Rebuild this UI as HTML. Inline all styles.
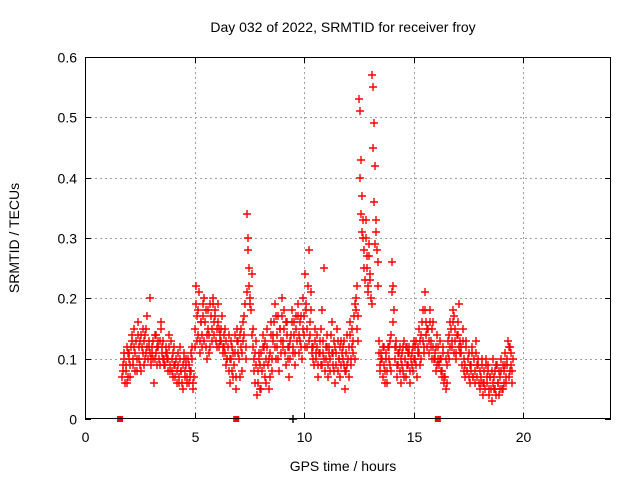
<!DOCTYPE html>
<html><head><meta charset="utf-8"><style>
body{margin:0;background:#fff;}
svg{display:block;font-family:"Liberation Sans",sans-serif;}
</style></head><body>
<svg id="chart" width="640" height="480">
<rect width="640" height="480" fill="#fff"/>
<g id="grid"></g>
<g id="pts"></g>
<rect x="85.5" y="57.5" width="525" height="361" fill="none" stroke="#000" stroke-width="1"/>
<g id="ticks"></g>
<text x="343" y="32" font-size="14" text-anchor="middle">Day 032 of 2022, SRMTID for receiver froy</text>
<text x="343" y="471" font-size="14" text-anchor="middle">GPS time / hours</text>
<text transform="translate(19,238) rotate(-90)" font-size="14" text-anchor="middle">SRMTID / TECUs</text>
</svg>
<script>
const xTicks=[0,5,10,15,20];
const yTicks=[0,0.1,0.2,0.3,0.4,0.5,0.6];
const yTickLabels=["0","0.1","0.2","0.3","0.4","0.5","0.6"];
const times=[1.70,1.85,2.00,2.15,2.30,2.45,2.60,2.75,2.90,3.05,3.20,3.35,3.50,3.65,3.80,3.95,4.10,4.25,4.40,4.55,4.70,4.85,5.00,5.15,5.30,5.45,5.60,5.75,5.90,6.05,6.20,6.35,6.50,6.65,6.80,6.95,7.10,7.25,7.40,7.55,7.70,7.85,8.00,8.15,8.30,8.45,8.60,8.75,8.90,9.05,9.20,9.35,9.50,9.65,9.80,9.95,10.10,10.25,10.40,10.55,10.70,10.85,11.00,11.15,11.30,11.45,11.60,11.75,11.90,12.05,12.20,12.35,12.50,12.65,12.80,12.95,13.10,13.25,13.40,13.55,13.70,13.85,14.00,14.15,14.30,14.45,14.60,14.75,14.90,15.05,15.20,15.35,15.50,15.65,15.80,15.95,16.10,16.25,16.40,16.55,16.70,16.85,17.00,17.15,17.30,17.45,17.60,17.75,17.90,18.05,18.20,18.35,18.50,18.65,18.80,18.95,19.10,19.25,19.40];
const values=[.07,.09,.10, .08,.06,.11, .10,.07,.12, .13,.09,.15, .11,.08,.14, .10,.13,.08, .12,.15,.09, .14,.11,.17, .12,.20,.10, .11,.13,.06,
.10,.14,.12, .12,.09,.16, .11,.13,.10, .09,.12,.11, .10,.14,.08, .08,.11,.09, .07,.10,.06, .09,.06,.12, .08,.05,.10, .07,.09,.06,
.10,.06,.08, .08,.12,.05, .12,.22,.17, .14,.21,.11, .16,.12,.19, .13,.18,.10, .15,.11,.19, .17,.13,.20, .14,.18,.12, .19,.15,.13,
.13,.17,.11, .12,.15,.09, .10,.14,.06, .13,.08,.11, .09,.14,.05, .15,.11,.07, .12,.08,.16, .14,.19,.10, .34,.30,.25, .20,.24,.15,
.10,.06,.13, .04,.08,.11, .09,.05,.14, .12,.07,.10, .15,.09,.05, .11,.16,.08, .14,.19,.10, .12,.17,.08, .15,.11,.20, .13,.18,.09,
.16,.12,.07, .10,.14,.18, .12,.16,.09, .15,.19,.11, .13,.17,.10, .20,.14,.24, .18,.12,.28, .16,.21,.11, .12,.09,.15, .10,.14,.07,
.13,.09,.18, .11,.25,.08, .10,.14,.07, .12,.08,.16, .09,.13,.06, .11,.15,.08, .10,.07,.13, .12,.09,.05, .08,.14,.10, .12,.16,.09,
.15,.11,.19, .18,.22,.13, .53,.51,.43, .37,.30,.25, .33,.27,.22, .29,.24,.20, .57,.55,.49, .42,.31,.26, .13,.09,.11, .10,.07,.12,
.08,.11,.06, .12,.09,.14, .26,.22,.18, .10,.13,.07, .09,.12,.06, .11,.08,.13, .10,.07,.12, .09,.12,.06, .11,.08,.13, .10,.13,.07,
.12,.15,.09, .14,.18,.11, .21,.16,.12, .15,.11,.18, .13,.10,.16, .11,.08,.14, .12,.09,.10, .10,.07,.12, .06,.05,.09, .13,.10,.16,
.15,.12,.18, .17,.13,.10, .14,.19,.11, .12,.09,.15, .10,.07,.13, .08,.11,.06, .09,.12,.07, .10,.06,.13, .07,.10,.05, .06,.09,.04,
.08,.05,.10, .06,.09,.04, .07,.03,.10, .05,.08,.04, .09,.06,.04, .07,.10,.05, .08,.11,.06, .10,.13,.07, .12,.09,.06];
const values2=[.08,.11,.06, .09,.12,.07, .11,.09,.14, .10,.12,.08, .13,.10,.16, .12,.09,.14, .11,.13,.10, .15,.12,.10, .13,.11,.09, .12,.10,.14,
.11,.09,.13, .10,.13,.15, .12,.10,.09, .11,.10,.08, .12,.09,.13, .10,.07,.12, .09,.08,.11, .07,.10,.08, .06,.09,.11, .08,.10,.07,
.09,.07,.11, .10,.06,.07, .15,.19,.13, .18,.13,.16, .14,.17,.20, .16,.12,.14, .18,.14,.12, .15,.19,.16, .17,.13,.15, .16,.12,.14,
.15,.12,.14, .11,.13,.10, .12,.08,.10, .10,.12,.07, .11,.07,.13, .13,.10,.14, .15,.11,.13, .17,.12,.21, .28,.22,.19, .18,.14,.12,
.08,.11,.09, .06,.10,.05, .11,.08,.12, .09,.13,.06, .12,.10,.07, .14,.10,.13, .16,.12,.17, .14,.10,.15, .13,.17,.12, .15,.11,.16,
.14,.10,.12, .13,.16,.11, .14,.11,.17, .13,.17,.14, .16,.12,.15, .17,.12,.19, .15,.22,.13, .14,.18,.12, .10,.13,.11, .12,.09,.11,
.11,.15,.09, .13,.10,.12, .12,.09,.11, .10,.14,.11, .11,.08,.12, .09,.13,.10, .12,.09,.11, .10,.13,.08, .11,.09,.07, .14,.10,.12,
.13,.17,.10, .20,.15,.17, .40,.34,.31, .33,.28,.23, .30,.25,.21, .27,.23,.19, .45,.36,.29, .33,.28,.22, .11,.08,.10, .12,.09,.06,
.10,.08,.12, .10,.13,.08, .21,.16,.12, .12,.09,.11, .11,.08,.10, .09,.12,.07, .12,.09,.11, .11,.08,.10, .09,.12,.10, .12,.09,.11,
.11,.13,.10, .16,.13,.12, .18,.14,.15, .13,.16,.12, .15,.12,.10, .10,.12,.09, .10,.13,.08, .08,.11,.07, .07,.10,.06, .11,.14,.12,
.13,.16,.11, .15,.11,.14, .16,.12,.13, .11,.13,.08, .09,.12,.08, .10,.07,.09, .08,.11,.07, .08,.11,.09, .09,.06,.08, .07,.10,.06,
.06,.09,.07, .08,.05,.07, .05,.08,.06, .07,.05,.09, .06,.08,.05, .08,.05,.09, .06,.09,.07, .09,.12,.08, .11,.08,.10];
const zeroTimes=[1.6,6.9,16.1];
const blackTimes=[9.5];
const blackValues=[0];
const NS="http://www.w3.org/2000/svg";
const X0=85,X1=611,Y0=419,Y1=57;
function xs(t){return X0+t/24*(X1-X0);}
function ys(v){return Y0-v/0.6*(Y0-Y1);}
const grid=document.getElementById('grid'),ticks=document.getElementById('ticks'),pts=document.getElementById('pts');
function mk(tag,attrs,parent){const e=document.createElementNS(NS,tag);for(const k in attrs)e.setAttribute(k,attrs[k]);parent.appendChild(e);return e;}
yTicks.forEach((v,i)=>{
  const y=Math.round(ys(v))+0.5;
  if(i>0&&i<yTicks.length-1){const g=mk('line',{x1:X0,x2:X1,y1:y,y2:y,stroke:'#a0a0a0','stroke-dasharray':'2,3'},grid);
  
  }
  mk('line',{x1:X0,x2:X0+6,y1:y,y2:y,stroke:'#000'},ticks);
  mk('line',{x1:X1,x2:X1-6,y1:y,y2:y,stroke:'#000'},ticks);
  const t=mk('text',{x:X0-8,y:y+5,'font-size':14,'text-anchor':'end'},ticks);t.textContent=yTickLabels[i];
  
  
});
xTicks.forEach(v=>{
  const x=Math.round(xs(v))+0.5;
  if(v>0){const g=mk('line',{x1:x,x2:x,y1:Y0,y2:Y1,stroke:'#a0a0a0','stroke-dasharray':'2,3'},grid);
  
  }
  mk('line',{x1:x,x2:x,y1:Y0,y2:Y0-6,stroke:'#000'},ticks);
  mk('line',{x1:x,x2:x,y1:Y1,y2:Y1+6,stroke:'#000'},ticks);
  const t=mk('text',{x:x,y:Y0+23,'font-size':14,'text-anchor':'middle'},ticks);t.textContent=String(v);
  
  
});
function plus(t,v,col){
  const x=Math.round(xs(t)),y=Math.round(ys(v));
  const p=mk('path',{d:`M${x-4},${y}H${x+4}M${x},${y-4}V${y+4}`,stroke:col,'stroke-width':1.4,fill:'none'},pts);
  
  
}
blackTimes.forEach((t,i)=>plus(t,blackValues[i],'#000000'));
values.forEach((v,i)=>plus(times[Math.floor(i/3)]+(i%3)*0.05,v,'red'));
values2.forEach((v,i)=>plus(times[Math.floor(i/3)]+0.025+(i%3)*0.05,v,'red'));
zeroTimes.forEach(t=>{
  const r=mk('rect',{x:xs(t)-3,y:Y0-3,width:6,height:6,fill:'red'},pts);
  
  
});
</script>
</body></html>
